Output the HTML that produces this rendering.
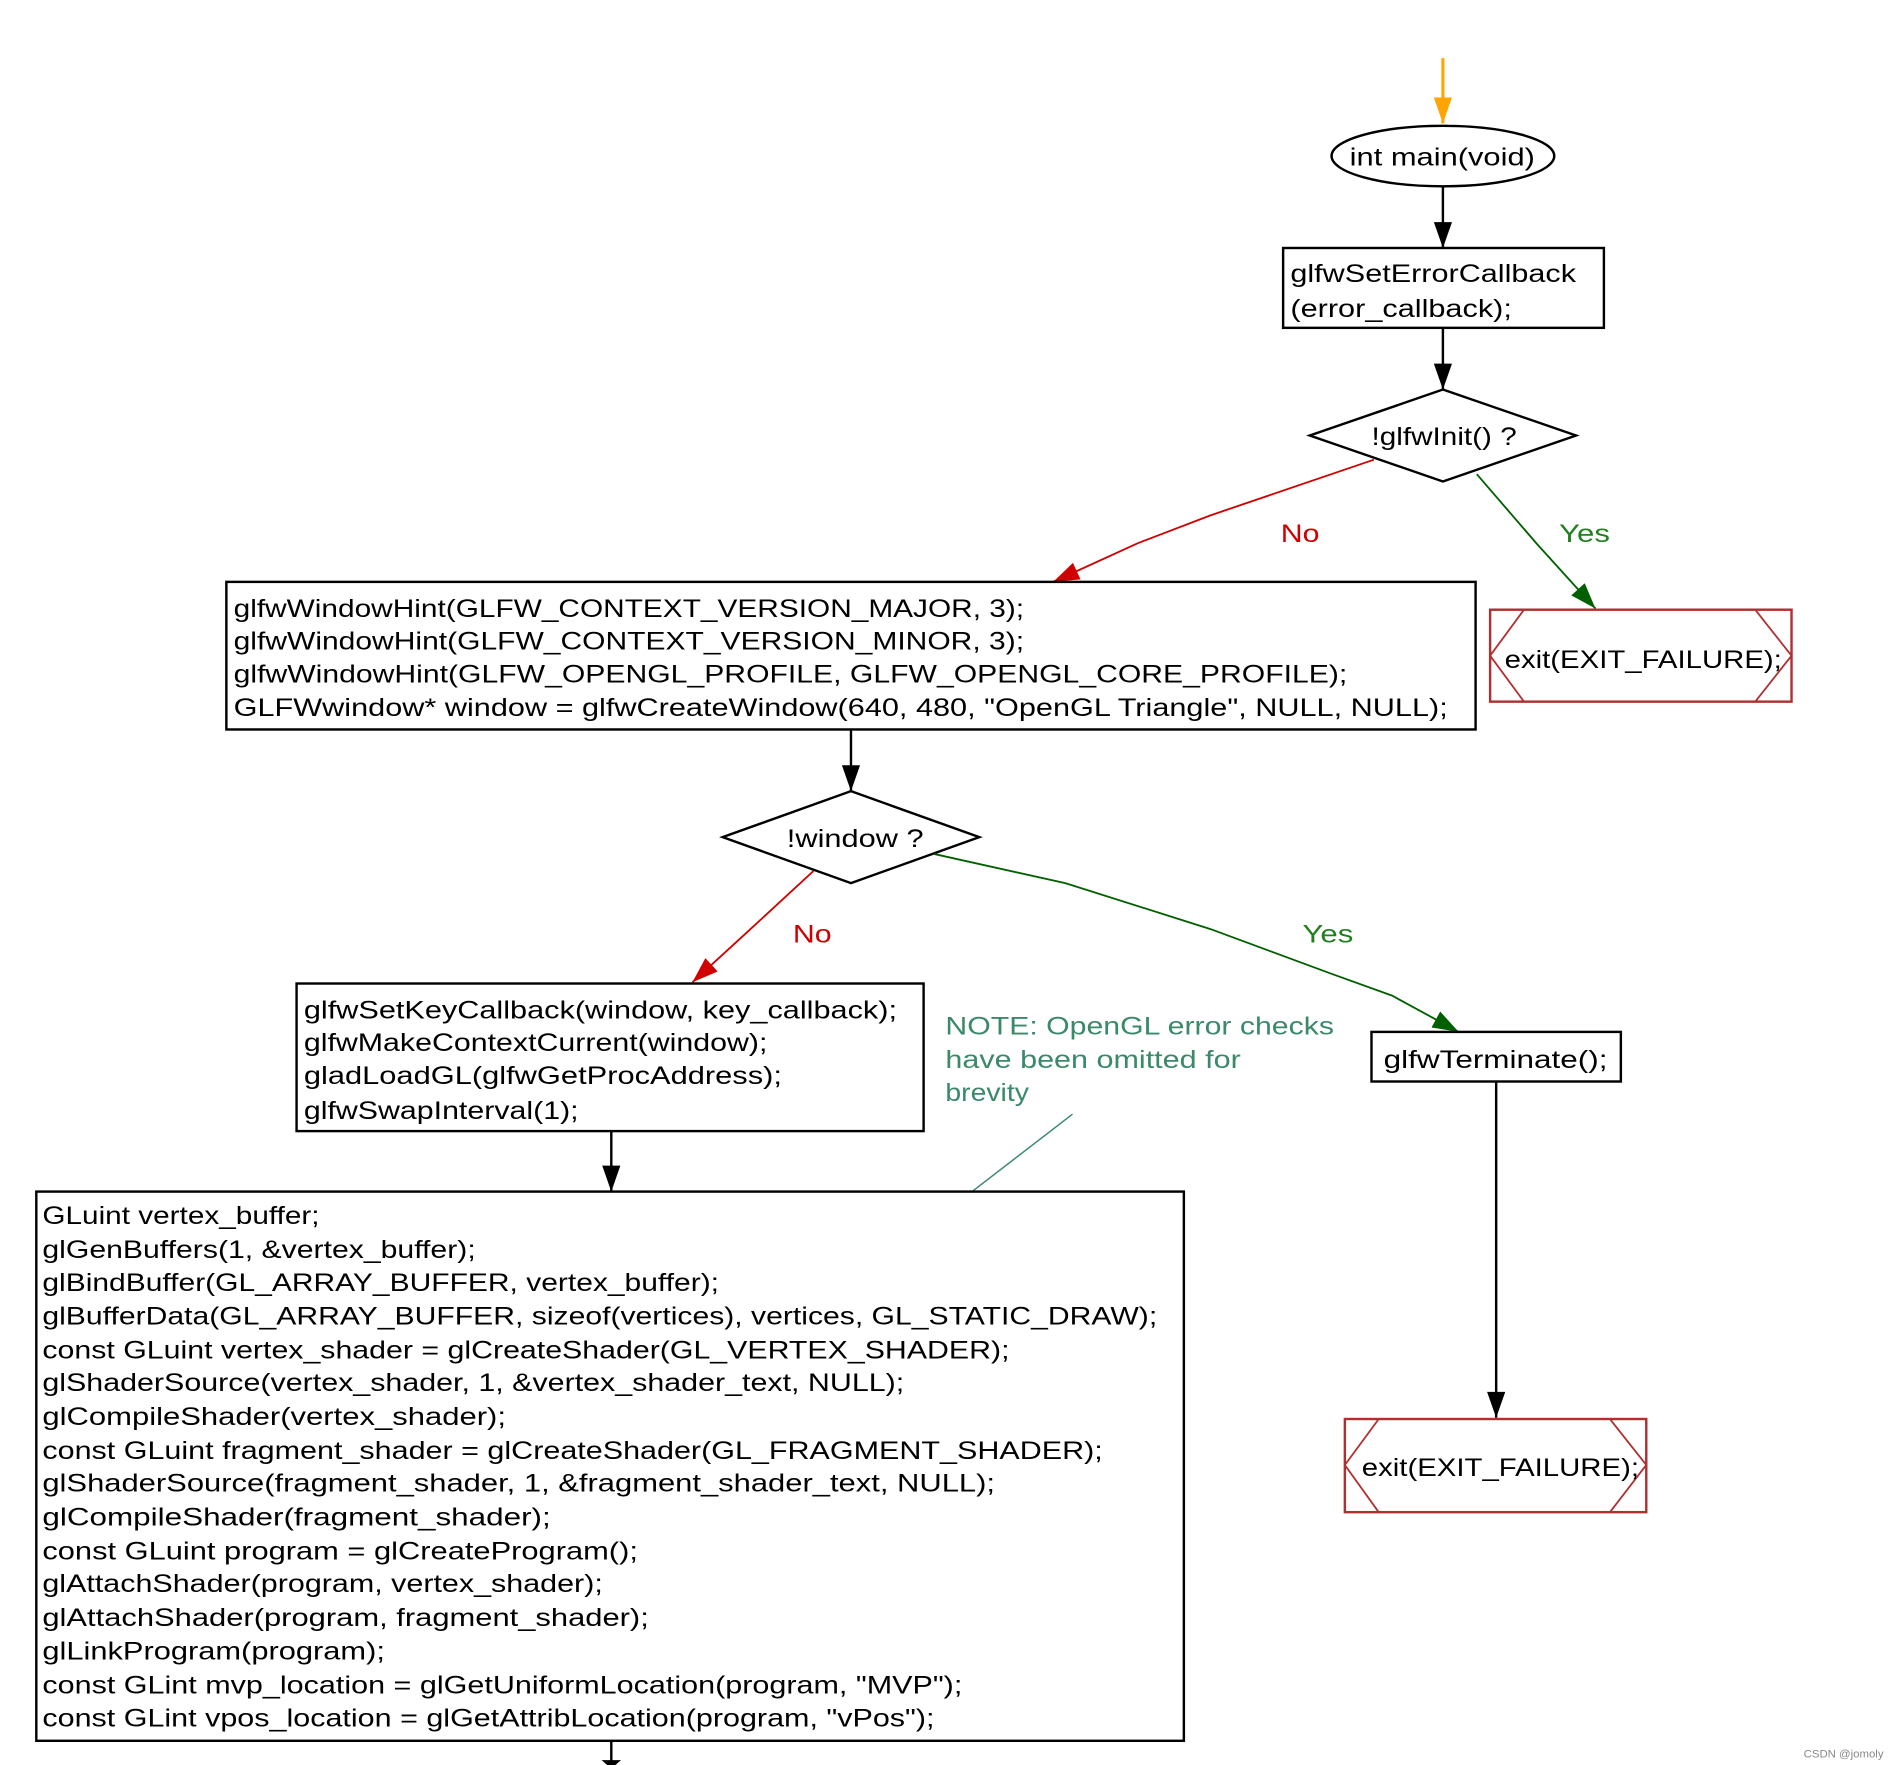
<!DOCTYPE html>
<html><head><meta charset="utf-8"><style>html,body{margin:0;padding:0;background:#fff}svg{display:block}</style></head>
<body>
<svg width="1892" height="1765" viewBox="0 0 1563 1459" preserveAspectRatio="none" xmlns="http://www.w3.org/2000/svg" font-family="Liberation Sans, Arial, sans-serif" font-size="21">
<defs>
<marker id="ab" viewBox="0 0 20 14" refX="20" refY="7" markerWidth="22" markerHeight="15" markerUnits="userSpaceOnUse" orient="auto"><path d="M0,0 L20,7 L0,14 z" fill="#000"/></marker>
<marker id="ar" viewBox="0 0 20 14" refX="20" refY="7" markerWidth="22" markerHeight="15" markerUnits="userSpaceOnUse" orient="auto"><path d="M0,0 L20,7 L0,14 z" fill="#d00000"/></marker>
<marker id="ag" viewBox="0 0 20 14" refX="20" refY="7" markerWidth="22" markerHeight="15" markerUnits="userSpaceOnUse" orient="auto"><path d="M0,0 L20,7 L0,14 z" fill="#006000"/></marker>
<marker id="ao" viewBox="0 0 20 14" refX="20" refY="7" markerWidth="24" markerHeight="15" markerUnits="userSpaceOnUse" orient="auto"><path d="M0,0 L20,7 L0,14 z" fill="#ffa500"/></marker>
</defs>
<g fill="none" stroke-width="2">
<line x1="1192" y1="48" x2="1192" y2="102" stroke="#ffa500" stroke-width="2.5" marker-end="url(#ao)"/>
<ellipse cx="1192" cy="129" rx="92" ry="25" stroke="#000"/>
<line x1="1192" y1="154" x2="1192" y2="205" stroke="#000" marker-end="url(#ab)"/>
<rect x="1060" y="205" width="265" height="66" stroke="#000"/>
<line x1="1192" y1="271" x2="1192" y2="322" stroke="#000" marker-end="url(#ab)"/>
<polygon points="1192,322 1302,360 1192,398 1082,360" stroke="#000"/>
<polyline points="1135,380 1000,426 940,449 870,481" stroke="#d00000" stroke-width="1.5" marker-end="url(#ar)"/>
<polyline points="1220,392 1270,450 1318,503" stroke="#006000" stroke-width="1.5" marker-end="url(#ag)"/>
<rect x="1231" y="504" width="249" height="76" stroke="#b03030"/>
<path d="M1231,542 L1259,504 M1231,542 L1259,580 M1480,542 L1450,504 M1480,542 L1450,580" stroke="#b03030" stroke-width="1.5"/>
<rect x="187" y="481" width="1032" height="122" stroke="#000"/>
<line x1="703" y1="603" x2="703" y2="654" stroke="#000" marker-end="url(#ab)"/>
<polygon points="703,654 809,692 703,730 597,692" stroke="#000"/>
<polyline points="672,720 620,768 572,812" stroke="#d00000" stroke-width="1.5" marker-end="url(#ar)"/>
<polyline points="772,706 880,730 1000,768 1100,805 1150,823 1205,853" stroke="#006000" stroke-width="1.5" marker-end="url(#ag)"/>
<rect x="245" y="813" width="518" height="122" stroke="#000"/>
<line x1="886" y1="921" x2="803" y2="985" stroke="#3a8a6a" stroke-width="1.2"/>
<rect x="1133" y="853" width="206" height="41" stroke="#000"/>
<line x1="1236" y1="894" x2="1236" y2="1172" stroke="#000" marker-end="url(#ab)"/>
<rect x="1111" y="1173" width="249" height="77" stroke="#b03030"/>
<path d="M1111,1211 L1139,1173 M1111,1211 L1139,1250 M1360,1211 L1330,1173 M1360,1211 L1330,1250" stroke="#b03030" stroke-width="1.5"/>
<line x1="505" y1="935" x2="505" y2="985" stroke="#000" marker-end="url(#ab)"/>
<rect x="30" y="985" width="948" height="454" stroke="#000"/>
<line x1="505" y1="1439" x2="505" y2="1459" stroke="#000"/>
<path d="M497,1455 L513,1455 L505,1462 z" fill="#000"/>
</g>
<g fill="#000">
<text x="1115" y="137" textLength="153" lengthAdjust="spacingAndGlyphs">int main(void)</text>
<text x="1066" y="233" textLength="236" lengthAdjust="spacingAndGlyphs">glfwSetErrorCallback</text>
<text x="1066" y="262" textLength="183" lengthAdjust="spacingAndGlyphs">(error_callback);</text>
<text x="1133" y="368" textLength="120" lengthAdjust="spacingAndGlyphs">!glfwInit() ?</text>
<text x="1243" y="552" textLength="229" lengthAdjust="spacingAndGlyphs">exit(EXIT_FAILURE);</text>
<text x="193" y="510" textLength="653" lengthAdjust="spacingAndGlyphs">glfwWindowHint(GLFW_CONTEXT_VERSION_MAJOR, 3);</text>
<text x="193" y="537" textLength="653" lengthAdjust="spacingAndGlyphs">glfwWindowHint(GLFW_CONTEXT_VERSION_MINOR, 3);</text>
<text x="193" y="564" textLength="920" lengthAdjust="spacingAndGlyphs">glfwWindowHint(GLFW_OPENGL_PROFILE, GLFW_OPENGL_CORE_PROFILE);</text>
<text x="193" y="592" textLength="1003" lengthAdjust="spacingAndGlyphs">GLFWwindow* window = glfwCreateWindow(640, 480, "OpenGL Triangle", NULL, NULL);</text>
<text x="650" y="700" textLength="113" lengthAdjust="spacingAndGlyphs">!window ?</text>
<text x="251" y="842" textLength="490" lengthAdjust="spacingAndGlyphs">glfwSetKeyCallback(window, key_callback);</text>
<text x="251" y="869" textLength="383" lengthAdjust="spacingAndGlyphs">glfwMakeContextCurrent(window);</text>
<text x="251" y="896" textLength="395" lengthAdjust="spacingAndGlyphs">gladLoadGL(glfwGetProcAddress);</text>
<text x="251" y="925" textLength="227" lengthAdjust="spacingAndGlyphs">glfwSwapInterval(1);</text>
<text x="1143" y="883" textLength="185" lengthAdjust="spacingAndGlyphs">glfwTerminate();</text>
<text x="1125" y="1220" textLength="229" lengthAdjust="spacingAndGlyphs">exit(EXIT_FAILURE);</text>
<text x="35" y="1012" textLength="229" lengthAdjust="spacingAndGlyphs">GLuint vertex_buffer;</text>
<text x="35" y="1040" textLength="358" lengthAdjust="spacingAndGlyphs">glGenBuffers(1, &amp;vertex_buffer);</text>
<text x="35" y="1067" textLength="559" lengthAdjust="spacingAndGlyphs">glBindBuffer(GL_ARRAY_BUFFER, vertex_buffer);</text>
<text x="35" y="1095" textLength="921" lengthAdjust="spacingAndGlyphs">glBufferData(GL_ARRAY_BUFFER, sizeof(vertices), vertices, GL_STATIC_DRAW);</text>
<text x="35" y="1123" textLength="799" lengthAdjust="spacingAndGlyphs">const GLuint vertex_shader = glCreateShader(GL_VERTEX_SHADER);</text>
<text x="35" y="1150" textLength="712" lengthAdjust="spacingAndGlyphs">glShaderSource(vertex_shader, 1, &amp;vertex_shader_text, NULL);</text>
<text x="35" y="1178" textLength="383" lengthAdjust="spacingAndGlyphs">glCompileShader(vertex_shader);</text>
<text x="35" y="1206" textLength="876" lengthAdjust="spacingAndGlyphs">const GLuint fragment_shader = glCreateShader(GL_FRAGMENT_SHADER);</text>
<text x="35" y="1233" textLength="787" lengthAdjust="spacingAndGlyphs">glShaderSource(fragment_shader, 1, &amp;fragment_shader_text, NULL);</text>
<text x="35" y="1261" textLength="420" lengthAdjust="spacingAndGlyphs">glCompileShader(fragment_shader);</text>
<text x="35" y="1289" textLength="492" lengthAdjust="spacingAndGlyphs">const GLuint program = glCreateProgram();</text>
<text x="35" y="1316" textLength="463" lengthAdjust="spacingAndGlyphs">glAttachShader(program, vertex_shader);</text>
<text x="35" y="1344" textLength="501" lengthAdjust="spacingAndGlyphs">glAttachShader(program, fragment_shader);</text>
<text x="35" y="1372" textLength="283" lengthAdjust="spacingAndGlyphs">glLinkProgram(program);</text>
<text x="35" y="1400" textLength="760" lengthAdjust="spacingAndGlyphs">const GLint mvp_location = glGetUniformLocation(program, "MVP");</text>
<text x="35" y="1427" textLength="737" lengthAdjust="spacingAndGlyphs">const GLint vpos_location = glGetAttribLocation(program, "vPos");</text>
</g>
<g fill="#d00000"><text x="1058" y="448" textLength="32" lengthAdjust="spacingAndGlyphs">No</text><text x="655" y="779" textLength="32" lengthAdjust="spacingAndGlyphs">No</text></g>
<g fill="#208020"><text x="1288" y="448" textLength="42" lengthAdjust="spacingAndGlyphs">Yes</text><text x="1076" y="779" textLength="42" lengthAdjust="spacingAndGlyphs">Yes</text></g>
<g fill="#3a8a6a">
<text x="781" y="855" textLength="321" lengthAdjust="spacingAndGlyphs">NOTE: OpenGL error checks</text>
<text x="781" y="883" textLength="244" lengthAdjust="spacingAndGlyphs">have been omitted for</text>
<text x="781" y="910" textLength="69" lengthAdjust="spacingAndGlyphs">brevity</text>
</g>
<text x="1490" y="1453" font-size="9" fill="#888" textLength="66" lengthAdjust="spacingAndGlyphs">CSDN @jomoly</text>
</svg>
</body></html>
